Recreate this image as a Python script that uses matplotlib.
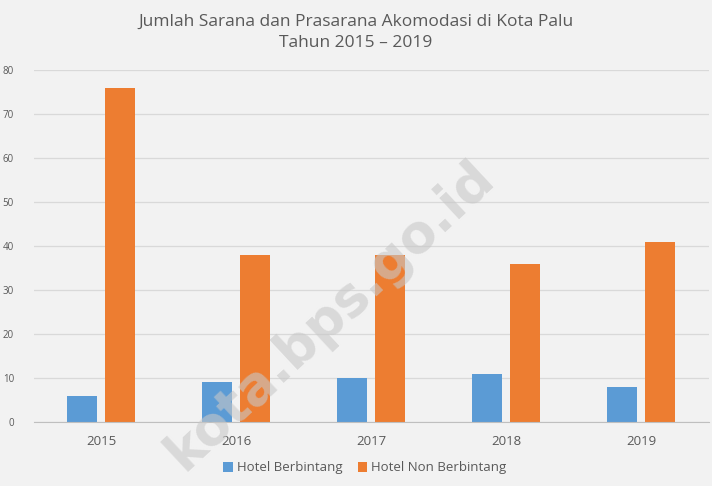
import matplotlib.pyplot as plt
import numpy as np

years = ["2015", "2016", "2017", "2018", "2019"]
berbintang = [6, 9, 10, 11, 8]
non_berbintang = [76, 38, 38, 36, 41]
yticks = [0, 10, 20, 30, 40, 50, 60, 70, 80]

plt.rcParams["font.family"] = ["Open Sans", "DejaVu Sans"]
bg = "#f2f2f2"
blue = "#5b9bd5"
orange = "#ed7d31"

fig = plt.figure(figsize=(7.12, 4.86), dpi=100, facecolor=bg)
ax = fig.add_axes([33.5 / 712, 1 - 422 / 486, 675 / 712, 352 / 486], facecolor=bg)

x = np.arange(len(years))
w = 0.222
ax.bar(x - 0.141, berbintang, w, color=blue, label="Hotel Berbintang", zorder=3)
ax.bar(x + 0.141, non_berbintang, w, color=orange, label="Hotel Non Berbintang", zorder=3)

ax.set_xlim(-0.5, len(years) - 0.5)
ax.set_ylim(0, 80)
ax.set_yticks(yticks)
ax.set_xticks(x)
ax.set_xticklabels(years, fontsize=9.5, color="#595959")
ax.tick_params(axis="y", labelsize=7, colors="#595959", length=0, pad=14)
ax.tick_params(axis="x", length=0, pad=9)
ax.grid(axis="y", color="#d9d9d9", linewidth=0.9, zorder=0)
for s in ["top", "right", "left"]:
    ax.spines[s].set_visible(False)
ax.spines["bottom"].set_color("#bfbfbf")
ax.spines["bottom"].set_zorder(4)

fig.text(0.5, 1 - 14 / 486, "Jumlah Sarana dan Prasarana Akomodasi di Kota Palu\nTahun 2015 \u2013 2019",
         ha="center", va="top", fontsize=12.5, color="#595959", linespacing=1.45)

fig.legend(loc="center", bbox_to_anchor=(365 / 712, 1 - 468 / 486), ncol=2, frameon=False,
           fontsize=9.5, handlelength=0.7, handleheight=0.7, handletextpad=0.3, columnspacing=1.2,
           labelcolor="#595959")

# watermark
fig.text(330 / 712, 1 - 315 / 486, "kota.bps.go.id", rotation=43, ha="center", va="center",
         fontsize=38, fontweight="bold", color="#c8c8c8", alpha=0.6, zorder=5,
         family="DejaVu Sans")

fig.savefig("out.png", dpi=100, facecolor=bg)
